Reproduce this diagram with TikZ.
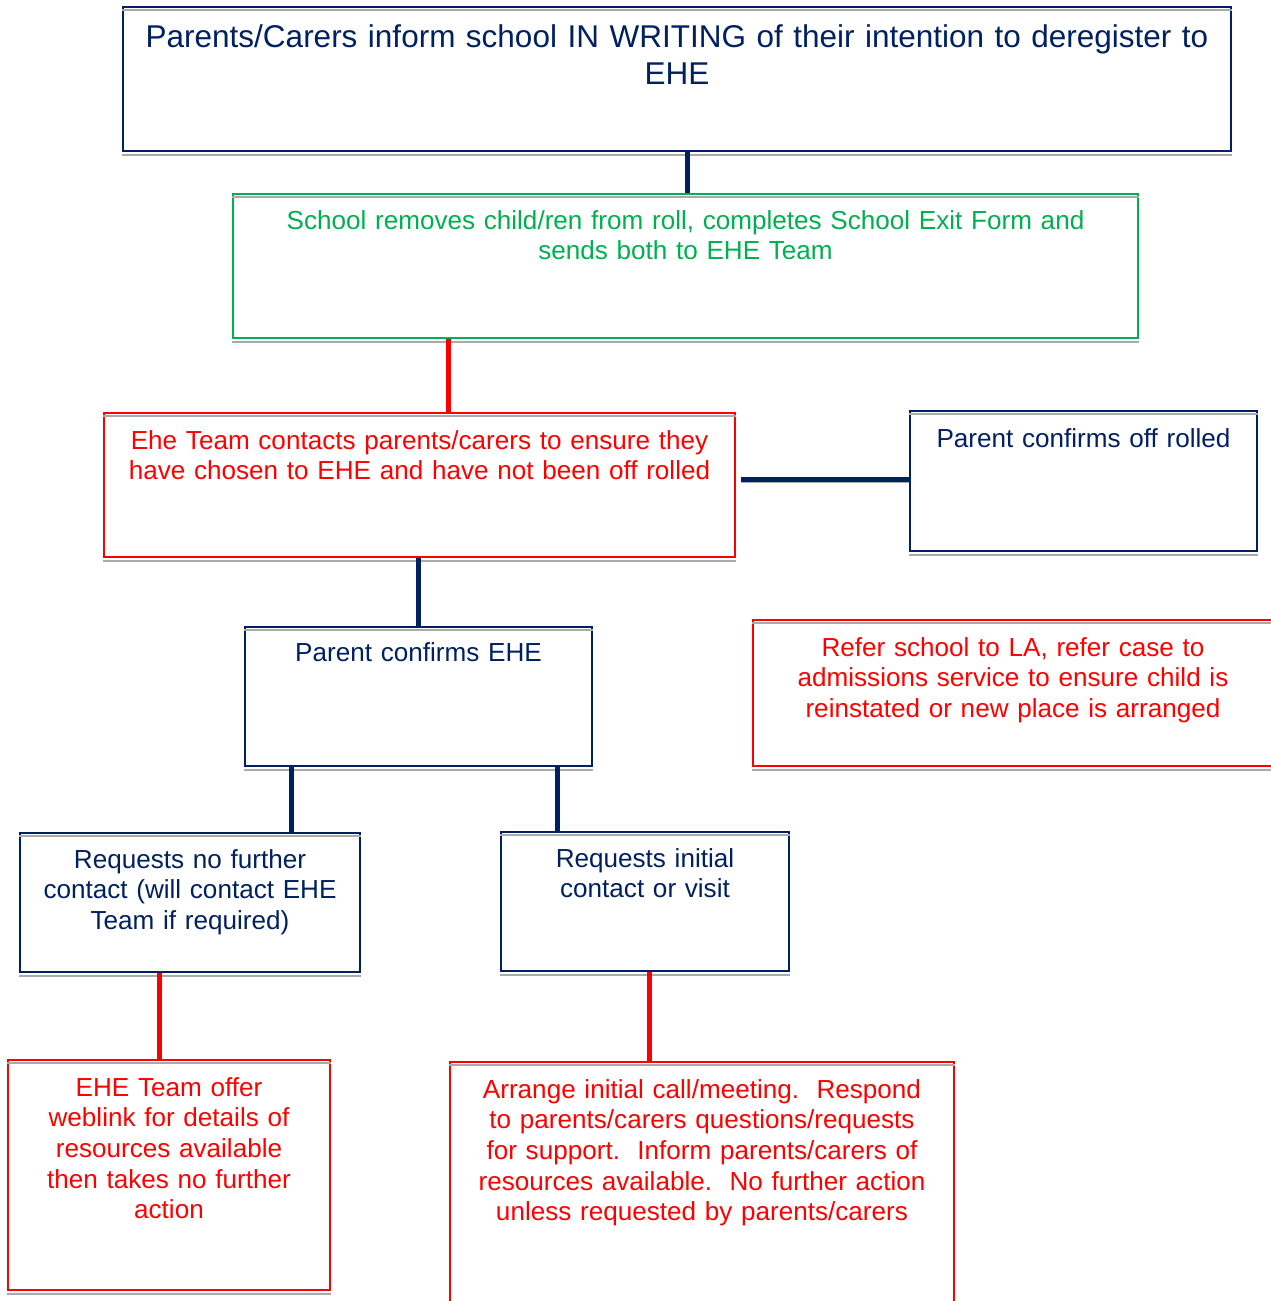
\documentclass[tikz,border=0pt]{standalone}
\usepackage{fontspec}
\setmainfont{Liberation Sans}
\usetikzlibrary{calc}
\definecolor{navy}{RGB}{0,32,96}
\definecolor{ehegreen}{RGB}{0,176,80}
\definecolor{shadow}{RGB}{170,170,170}
\tikzstyle{box}=[draw, line width=2pt, anchor=north west, align=center,
    inner xsep=8pt, inner ysep=0pt, font=\fontsize{26.1}{30.7}\selectfont]
\tikzstyle{navybox}=[box, draw=navy, text=navy]
\tikzstyle{redbox}=[box, draw=red, text=red]
\tikzstyle{greenbox}=[box, draw=ehegreen, text=ehegreen]
\tikzstyle{navyline}=[draw=navy, line width=5pt]
\tikzstyle{redline}=[draw=red, line width=5pt]
\tikzstyle{shadowline}=[draw=shadow, line width=2pt]

\begin{document}
\begin{tikzpicture}[x=1pt, y=-1pt]
\useasboundingbox (0,0) rectangle (1271,1301);
\node[navybox, text width=1092pt, text height=40pt, text depth=104pt,
      font=\fontsize{31.5}{37}\selectfont] (top) at (122,6)
    {Parents/Carers inform school IN WRITING of their intention to deregister to\\ EHE};
\node[greenbox, text width=889pt, text height=35pt, text depth=109pt] (school) at (232,193)
    {School removes child/ren from roll, completes School Exit Form and\\ sends both to EHE Team};
\node[redbox, text width=615pt, text height=36pt, text depth=108pt] (ehe) at (103,412)
    {Ehe Team contacts parents/carers to ensure they\\ have chosen to EHE and have not been off rolled};
\node[navybox, text width=331pt, text height=36pt, text depth=104pt] (offrolled) at (909,410)
    {Parent confirms off rolled};
\node[redbox, text width=504pt, text height=36pt, text depth=110pt] (refer) at (752,619)
    {Refer school to LA, refer case to\\ admissions service to ensure child is\\ reinstated or new place is arranged};
\node[navybox, text width=331pt, text height=34pt, text depth=105pt] (confirms) at (244,626)
    {Parent confirms EHE};
\node[navybox, text width=324pt, text height=35pt, text depth=104pt] (nofurther) at (19,832)
    {Requests no further\\ contact (will contact EHE\\ Team if required)};
\node[navybox, text width=272pt, text height=35pt, text depth=104pt] (initial) at (500,831)
    {Requests initial\\ contact or visit};
\node[redbox, text width=306pt, text height=36pt, text depth=194pt] (weblink) at (7,1059)
    {EHE Team offer\\ weblink for details of\\ resources available\\ then takes no further\\ action};
\node[redbox, text width=488pt, text height=36pt, text depth=214pt] (arrange) at (449,1061)
    {Arrange initial call/meeting.\ \ Respond\\ to parents/carers questions/requests\\ for support.\ \ Inform parents/carers of\\ resources available.\ \ No further action\\ unless requested by parents/carers};

% grey shadow under and inside each box
\foreach \n in {top,school,ehe,offrolled,refer,confirms,nofurther,initial,weblink,arrange}{
  \draw[shadowline] ([yshift=-3pt]\n.south west) -- ([yshift=-3pt]\n.south east);
  \draw[shadowline] ([yshift=-4pt]\n.north west) -- ([yshift=-4pt]\n.north east);
}

% connectors
\coordinate (c1) at ([xshift=1.5pt]school.north);
\coordinate (c2) at ([xshift=345pt]ehe.north west);
\coordinate (c3) at ([xshift=47pt]confirms.south west);
\coordinate (c4) at ([xshift=-36pt]confirms.south east);
\coordinate (c5) at ([xshift=-10pt]weblink.north);
\coordinate (c6) at ([xshift=-53pt]arrange.north);
\draw[navyline] (c1) -- (c1 |- top.south);
\draw[redline] (c2) -- (c2 |- school.south);
\draw[shadowline] ([xshift=5pt,yshift=-1pt]ehe.east |- offrolled.west) -- ([yshift=-1pt]offrolled.west);
\draw[navyline] ([xshift=5pt,yshift=2pt]ehe.east |- offrolled.west) -- ([yshift=2pt]offrolled.west);
\draw[navyline] (confirms.north) -- (confirms.north |- ehe.south);
\draw[navyline] (c3) -- (c3 |- nofurther.north);
\draw[navyline] (c4) -- (c4 |- initial.north);
\draw[redline] (c5) -- (c5 |- nofurther.south);
\draw[redline] (c6) -- (c6 |- initial.south);
\end{tikzpicture}
\end{document}
